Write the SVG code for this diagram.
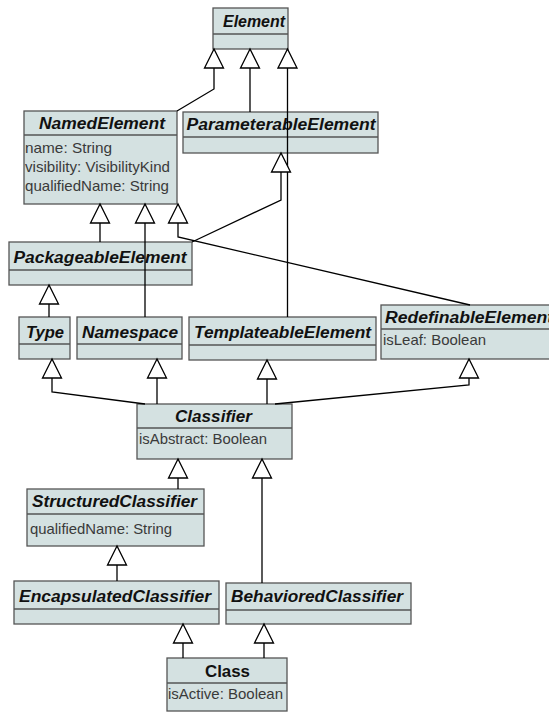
<svg xmlns="http://www.w3.org/2000/svg" width="549" height="713" viewBox="0 0 549 713">
<style>
.box{fill:#d4e1e1;stroke:#555;stroke-width:1.3}
.sep{stroke:#555;stroke-width:1.3}
.t{font-family:"Liberation Sans",Arial,sans-serif;font-size:16px;font-weight:bold;font-style:italic;fill:#111;text-anchor:middle}
.tc{font-family:"Liberation Sans",Arial,sans-serif;font-size:16px;font-weight:bold;fill:#111;text-anchor:middle}
.a{font-family:"Liberation Sans",Arial,sans-serif;font-size:14.5px;fill:#3a3a3a}
.c{fill:none;stroke:#000;stroke-width:1.3;marker-end:url(#gen)}
</style>
<defs>
<marker id="gen" viewBox="-21 -11 23 22" refX="0" refY="0" markerWidth="23" markerHeight="22" markerUnits="userSpaceOnUse" orient="auto">
<path d="M0,0 L-19,-9.5 L-19,9.5 Z" fill="#fff" stroke="#000" stroke-width="1.3"/>
</marker>
</defs>
<g id="Element">
<rect class="box" x="213" y="8" width="75" height="41"/>
<line class="sep" x1="213" y1="34" x2="288" y2="34"/>
<text class="t" x="254" y="27" textLength="62" lengthAdjust="spacingAndGlyphs">Element</text>
</g>
<g id="NamedElement">
<rect class="box" x="24" y="111" width="153" height="93"/>
<line class="sep" x1="24" y1="135" x2="177" y2="135"/>
<text class="t" x="102" y="129" textLength="126" lengthAdjust="spacingAndGlyphs">NamedElement</text>
<text class="a" x="25" y="153" textLength="87" lengthAdjust="spacingAndGlyphs">name: String</text>
<text class="a" x="25" y="172" textLength="145" lengthAdjust="spacingAndGlyphs">visibility: VisibilityKind</text>
<text class="a" x="25" y="191" textLength="144" lengthAdjust="spacingAndGlyphs">qualifiedName: String</text>
</g>
<g id="ParameterableElement">
<rect class="box" x="183" y="112" width="195" height="41"/>
<line class="sep" x1="183" y1="137" x2="378" y2="137"/>
<text class="t" x="281" y="130" textLength="189" lengthAdjust="spacingAndGlyphs">ParameterableElement</text>
</g>
<g id="PackageableElement">
<rect class="box" x="9" y="242" width="183" height="43"/>
<line class="sep" x1="9" y1="270" x2="192" y2="270"/>
<text class="t" x="100" y="263" textLength="173" lengthAdjust="spacingAndGlyphs">PackageableElement</text>
</g>
<g id="Type">
<rect class="box" x="19" y="317" width="51" height="42"/>
<line class="sep" x1="19" y1="344" x2="70" y2="344"/>
<text class="t" x="45" y="338" textLength="38" lengthAdjust="spacingAndGlyphs">Type</text>
</g>
<g id="Namespace">
<rect class="box" x="77" y="317" width="105" height="42"/>
<line class="sep" x1="77" y1="344" x2="182" y2="344"/>
<text class="t" x="130" y="338" textLength="96" lengthAdjust="spacingAndGlyphs">Namespace</text>
</g>
<g id="TemplateableElement">
<rect class="box" x="189" y="317" width="187" height="43"/>
<line class="sep" x1="189" y1="345" x2="376" y2="345"/>
<text class="t" x="282.5" y="338" textLength="177" lengthAdjust="spacingAndGlyphs">TemplateableElement</text>
</g>
<g id="RedefinableElement">
<rect class="box" x="381" y="305" width="176" height="54"/>
<line class="sep" x1="381" y1="329" x2="557" y2="329"/>
<text class="t" x="469" y="323" textLength="168" lengthAdjust="spacingAndGlyphs">RedefinableElement</text>
<text class="a" x="383" y="345" textLength="103" lengthAdjust="spacingAndGlyphs">isLeaf: Boolean</text>
</g>
<g id="Classifier">
<rect class="box" x="137" y="404" width="155" height="55"/>
<line class="sep" x1="137" y1="428" x2="292" y2="428"/>
<text class="t" x="213.5" y="422" textLength="77" lengthAdjust="spacingAndGlyphs">Classifier</text>
<text class="a" x="139" y="444" textLength="128" lengthAdjust="spacingAndGlyphs">isAbstract: Boolean</text>
</g>
<g id="StructuredClassifier">
<rect class="box" x="27" y="489" width="177" height="57"/>
<line class="sep" x1="27" y1="514" x2="204" y2="514"/>
<text class="t" x="114.5" y="507" textLength="165" lengthAdjust="spacingAndGlyphs">StructuredClassifier</text>
<text class="a" x="30" y="534" textLength="142" lengthAdjust="spacingAndGlyphs">qualifiedName: String</text>
</g>
<g id="EncapsulatedClassifier">
<rect class="box" x="14" y="581" width="205" height="43"/>
<line class="sep" x1="14" y1="609" x2="219" y2="609"/>
<text class="t" x="115" y="602" textLength="192" lengthAdjust="spacingAndGlyphs">EncapsulatedClassifier</text>
</g>
<g id="BehavioredClassifier">
<rect class="box" x="226" y="583" width="185" height="41"/>
<line class="sep" x1="226" y1="610" x2="411" y2="610"/>
<text class="t" x="317" y="602" textLength="172" lengthAdjust="spacingAndGlyphs">BehavioredClassifier</text>
</g>
<g id="Class">
<rect class="box" x="167" y="658" width="120" height="53"/>
<line class="sep" x1="167" y1="683" x2="287" y2="683"/>
<text class="tc" x="227.5" y="677" textLength="45" lengthAdjust="spacingAndGlyphs">Class</text>
<text class="a" x="168" y="699" textLength="115" lengthAdjust="spacingAndGlyphs">isActive: Boolean</text>
</g>
<g id="connectors">
<polyline class="c" points="177,111 214,89 214,49"/>
<polyline class="c" points="250,112 250,49"/>
<polyline class="c" points="287.5,317 287.5,49"/>
<polyline class="c" points="100,242 100,204"/>
<polyline class="c" points="145,317 145,204"/>
<polyline class="c" points="470,305 178,237 178,204"/>
<polyline class="c" points="192,242 281,200 281,153"/>
<polyline class="c" points="49,317 49,285"/>
<polyline class="c" points="145,404 52,392 52,359"/>
<polyline class="c" points="157,404 157,359"/>
<polyline class="c" points="267,404 267,360"/>
<polyline class="c" points="275,404 469,385 469,359"/>
<polyline class="c" points="178,489 178,459"/>
<polyline class="c" points="262,583 262,459"/>
<polyline class="c" points="117,581 117,546"/>
<polyline class="c" points="183,658 183,624"/>
<polyline class="c" points="264,658 264,624"/>
</g>
</svg>
